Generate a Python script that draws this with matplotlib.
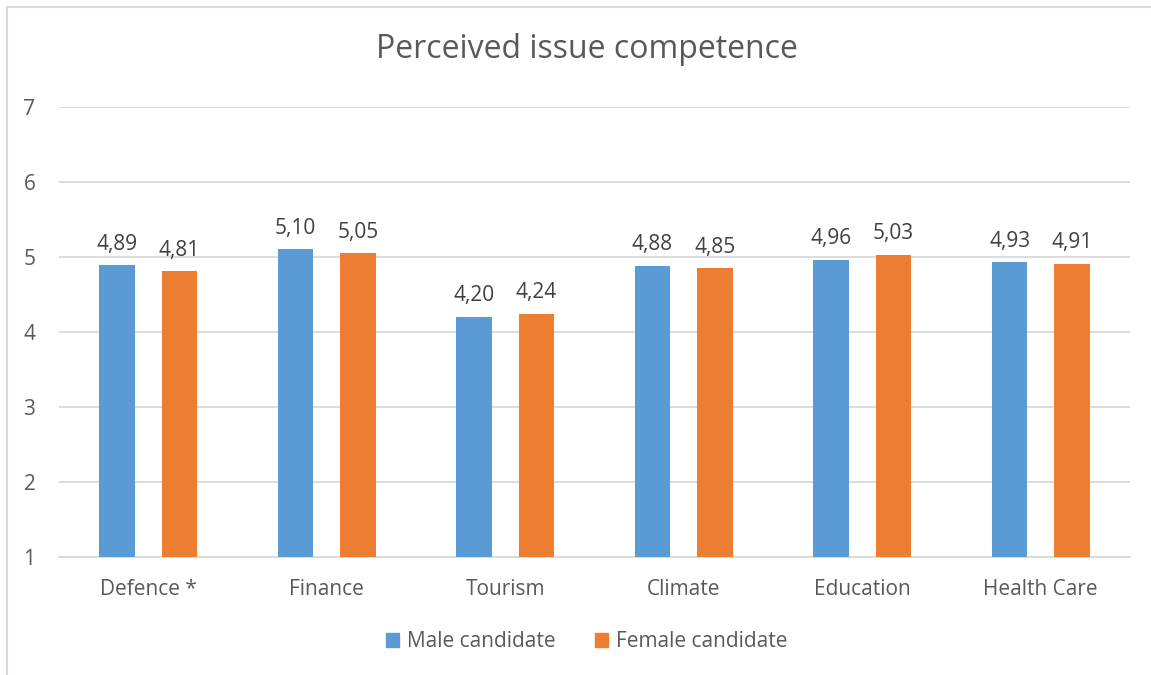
import numpy as np
import matplotlib
matplotlib.use("Agg")
import matplotlib.pyplot as plt
from matplotlib.lines import Line2D
from matplotlib.patches import Patch

# data
categories = ["Defence *", "Finance", "Tourism", "Climate", "Education", "Health Care"]
male = [4.89, 5.10, 4.20, 4.88, 4.96, 4.93]
female = [4.81, 5.05, 4.24, 4.85, 5.03, 4.91]
series_names = ["Male candidate", "Female candidate"]

blue = "#5B9BD5"
orange = "#ED7D31"
txt = "#595959"

plt.rcParams['font.family'] = ['Open Sans', 'DejaVu Sans']

fig = plt.figure(figsize=(11.51, 6.75), dpi=100)
ax = fig.add_axes([0.0513, 0.1748, 0.9305, 0.6667])

x = np.arange(len(categories))
w = 0.2
off = 0.175
ax.bar(x - off, np.array(male) - 1, w, bottom=1, color=blue, zorder=3)
ax.bar(x + off, np.array(female) - 1, w, bottom=1, color=orange, zorder=3)

# value labels, decimal comma
for xi, v in zip(x - off, male):
    ax.text(xi, v + 0.14, f"{v:.2f}".replace(".", ","), ha="center", va="bottom",
            fontsize=15, color="#404040")
for xi, v in zip(x + off, female):
    ax.text(xi, v + 0.14, f"{v:.2f}".replace(".", ","), ha="center", va="bottom",
            fontsize=15, color="#404040")

ax.set_xlim(-0.5, len(categories) - 0.5)
ax.set_ylim(1, 7)
ax.set_yticks(range(1, 8))
ax.set_xticks(x)
ax.set_xticklabels(categories)
ax.yaxis.grid(True, color="#D9D9D9", linewidth=1.3, zorder=0)
ax.set_axisbelow(True)
for s in ["top", "right", "left"]:
    ax.spines[s].set_visible(False)
ax.spines["bottom"].set_color("#D9D9D9")
ax.spines["bottom"].set_linewidth(1.3)
ax.tick_params(axis="both", length=0, labelsize=15, colors=txt)
ax.tick_params(axis="x", pad=16)
ax.tick_params(axis="y", pad=17)

fig.text(0.51, 0.926, "Perceived issue competence", ha="center", va="center",
         fontsize=23, color=txt)

handles = [Patch(color=blue), Patch(color=orange)]
fig.legend(handles, series_names, loc="center", bbox_to_anchor=(0.51, 0.049),
           ncol=2, frameon=False, fontsize=15, labelcolor=txt,
           handlelength=0.6, handleheight=0.6, handletextpad=0.4, columnspacing=1.9)

# chart border (left and top)
fig.add_artist(Line2D([0.0065, 0.0065], [0, 0.99], color="#D9D9D9", lw=1.5))
fig.add_artist(Line2D([0.0065, 1.0], [0.99, 0.99], color="#D9D9D9", lw=1.5))

fig.savefig("out.png", dpi=100)
